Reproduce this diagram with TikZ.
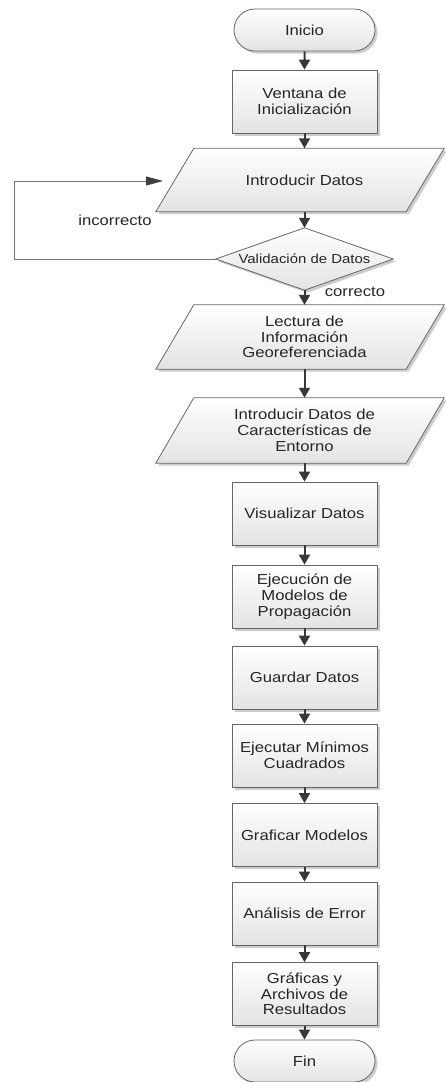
\documentclass[tikz,border=0pt]{standalone}
\usepackage{fontspec}
\setmainfont{Liberation Sans}[FakeStretch=1.15]
\usetikzlibrary{shapes.misc,arrows.meta,shadows,backgrounds}
\begin{document}
\begin{tikzpicture}[x=1pt,y=-1pt,
  base/.style={font=\fontsize{14.5}{15.7}\selectfont, text=black!85, align=center, inner sep=2pt},
  fillsh/.style={top color=white, bottom color=black!11, draw=black!60, line width=0.8pt,
    drop shadow={shadow xshift=2.5pt,shadow yshift=-2.5pt,fill=black!25,opacity=0.8}},
  proc/.style={base, fillsh, rectangle, minimum width=145pt, minimum height=63pt},
  term/.style={base, fillsh, rounded rectangle, minimum width=145pt, minimum height=42pt},
  iobox/.style={base, rectangle, minimum width=250pt, minimum height=63pt},
  decbox/.style={base, font=\fontsize{13}{14}\selectfont, rectangle, inner sep=0pt, minimum width=177pt, minimum height=62pt},
  flow/.style={draw=black!78, line width=2pt, -{Triangle[width=11pt,length=10pt]}},
  back/.style={draw=black!55, line width=0.8pt, -{Triangle[width=9pt,length=17pt,color=black!75]}},
  lbl/.style={base, inner sep=0pt}
]
\useasboundingbox (0,0) rectangle (446,1082);

\node[term]   (ini) at (304.5,30)    {Inicio};
\node[proc]   (ven) at (304.5,101.5) {Ventana de\\Inicialización};
\node[iobox]  (intro) at (304.5,180) {Introducir Datos};
\node[decbox] (val) at (304.5,259)   {Validación de Datos};
\node[iobox, minimum height=64pt] (lec) at (304.5,337) {Lectura de\\Información\\Georeferenciada};
\node[iobox, minimum height=65pt] (car) at (304.5,430.5) {Introducir Datos de\\Características de\\Entorno};
\node[proc]   (vis) at (304.5,513.5) {Visualizar Datos};
\node[proc]   (eje) at (304.5,596.5) {Ejecución de\\Modelos de\\Propagación};
\node[proc]   (gua) at (304.5,677.5) {Guardar Datos};
\node[proc]   (mcu) at (304.5,755.5) {Ejecutar Mínimos\\Cuadrados};
\node[proc]   (gra) at (304.5,835)   {Graficar Modelos};
\node[proc]   (ana) at (304.5,913.5) {Análisis de Error};
\node[proc]   (res) at (304.5,994)   {Gráficas y\\Archivos de\\Resultados};
\node[term]   (fin) at (304.5,1061)  {Fin};

\node[lbl] (linc) at (115,220) {incorrecto};
\node[lbl] (lcor) at (355,292) {correcto};

\begin{scope}[on background layer]
  \foreach \n in {intro,lec,car}{
    \path[fillsh] ([xshift=-23.5pt]\n.south west) -- ([xshift=-23.5pt]\n.south east)
      -- ([xshift=14.5pt]\n.north east) -- ([xshift=14.5pt]\n.north west) -- cycle;
  }
  \path[fillsh] (val.west) -- (val.north) -- (val.east) -- (val.south) -- cycle;
\end{scope}

\draw[flow] (ini) -- (ven);
\draw[flow] (ven) -- (intro);
\draw[flow] (intro) -- (val.north);
\draw[flow] (val.south) -- (lec);
\draw[flow] (lec) -- (car);
\draw[flow] (car) -- (vis);
\draw[flow] (vis) -- (eje);
\draw[flow] (eje) -- (gua);
\draw[flow] (gua) -- (mcu);
\draw[flow] (mcu) -- (gra);
\draw[flow] (gra) -- (ana);
\draw[flow] (ana) -- (res);
\draw[flow] (res) -- (fin);

\coordinate (lp1) at (14,259);
\coordinate (lp2) at (14,181);
\coordinate (lpe) at (163,181);
\draw[back] (val.west) -- (lp1) -- (lp2) -- (lpe);
\end{tikzpicture}
\end{document}
